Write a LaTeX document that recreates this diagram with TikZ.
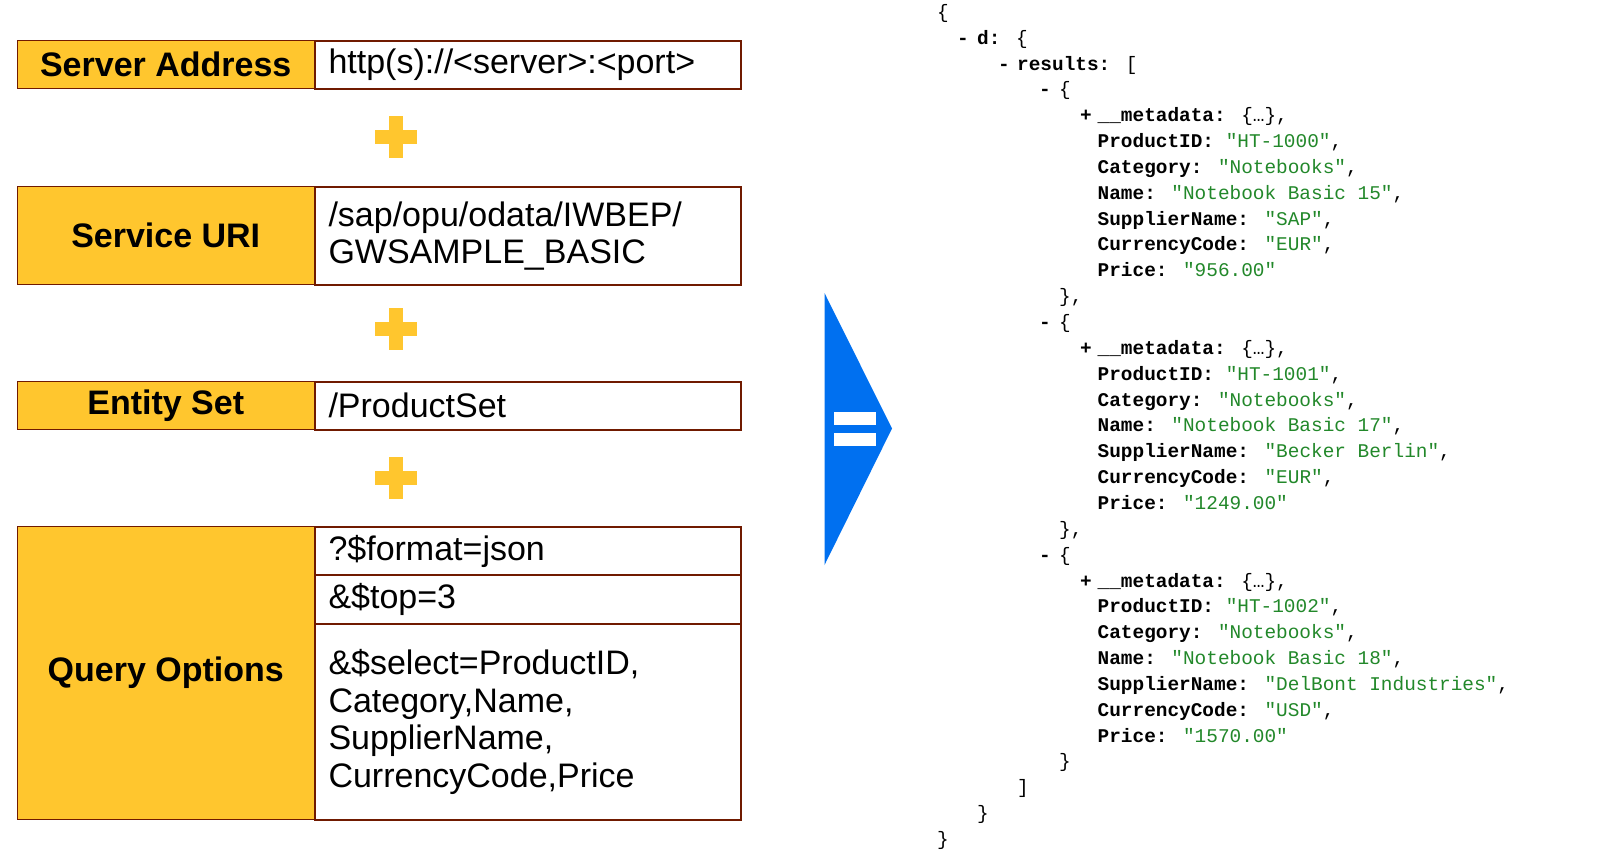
\documentclass[tikz,border=0pt]{standalone}
\usepackage{fontspec}
\setmainfont{Liberation Sans}
\newfontfamily\jmono{Liberation Mono}
\definecolor{boxorange}{HTML}{FFC62E}
\definecolor{boxline}{HTML}{701A00}
\definecolor{jgreen}{HTML}{22882A}
\definecolor{eqblue}{HTML}{0070F0}
\begin{document}
\begin{tikzpicture}[x=1pt,y=-1pt,
  labelbox/.style={draw=boxline, line width=1pt, fill=boxorange,
    font=\fontsize{34}{37.4}\selectfont\bfseries, inner sep=0pt,
    anchor=north west, minimum width=297.5pt, align=center},
  valbox/.style={draw=boxline, line width=2pt, fill=white,
    font=\fontsize{34}{37.4}\selectfont, inner xsep=13.5pt, inner ysep=0pt,
    anchor=north west, text width=399pt, align=left, minimum width=426pt},
  jl/.style={anchor=base west, inner sep=0pt, font=\jmono\fontsize{19.4}{20}\selectfont},
  jb/.style={jl, font=\jmono\bfseries\fontsize{19.4}{20}\selectfont},
  plusbar/.style={fill=boxorange}
]
\useasboundingbox[fill=white] (0,0) rectangle (1600,855);

% ---- left column ----
\node[labelbox, minimum height=48.3pt] (sa) at (16.5,40) {Server Address};
\node[valbox, minimum height=48.3pt] (sav) at (314,40) {\raisebox{-2pt}{http(s)://<server>:<port>}};

\node[labelbox, minimum height=98.6pt] (su) at (16.5,185.7) {Service URI};
\node[valbox, minimum height=98.6pt] (suv) at (314,185.7) {/sap/opu/odata/IWBEP/\\GWSAMPLE\_BASIC};

\node[labelbox, minimum height=48.3pt] (es) at (16.5,381) {\raisebox{-3pt}{Entity Set}};
\node[valbox, minimum height=48.3pt] (esv) at (314,381) {\raisebox{1pt}{/ProductSet}};

\node[labelbox, minimum height=293.3pt] (qo) at (16.5,525.7) {\raisebox{-3pt}{Query Options}};
\node[valbox, minimum height=48.6pt] (qo1) at (314,525.7) {\raisebox{-2pt}{?\$format=json}};
\node[valbox, minimum height=48.4pt] (qo2) at (314,574.3) {\raisebox{-2pt}{\&\$top=3}};
\node[valbox, minimum height=196.3pt] (qo3) at (314,622.7) {\&\$select=ProductID,\\Category,Name,\\SupplierName,\\CurrencyCode,Price};

% ---- plus signs ----
\foreach \py in {137,328.6,477.8}{
  \fill[plusbar] (389,\py-21) rectangle (403,\py+21);
  \fill[plusbar] (375,\py-7) rectangle (417,\py+7);
}

% ---- equals arrow ----
\fill[eqblue] (824.5,293) -- (892,428.5) -- (824.5,565) -- cycle;
\fill[white] (833.7,412) rectangle (875.5,425);
\fill[white] (833.7,432.5) rectangle (875.5,446);

% ---- JSON ----
\node[jl] (j0) at (937,18.3) {\{};
\node[jb] (j1m) at (957,44.15) {-};
\node[jl] (j1) at (977,44.15) {\textbf{d:} \{};
\node[jb] (j2m) at (998,70.0) {-};
\node[jl] (j2) at (1017,70.0) {\textbf{results:} [};

\foreach \pid/\num/\sup/\cur/\pr [count=\k from 0] in {HT-1000/15/SAP/EUR/956.00,HT-1001/17/Becker Berlin/EUR/1249.00,HT-1002/18/DelBont Industries/USD/1570.00}{
  \pgfmathsetmacro\yb{18.3+25.85*(3+9*\k)}
  \node[jb] (im\k) at (1039,\yb) {-};
  \node[jl] (io\k) at (1059,\yb) {\{};
  \node[jb] (ip\k) at (1080,\yb+25.85) {+};
  \node[jl] (imd\k) at (1097.5,\yb+25.85) {\textbf{\_\_metadata:} \{…\},};
  \node[jl] (ipid\k) at (1097.5,\yb+51.7) {\textbf{ProductID:} \textcolor{jgreen}{"\pid"},};
  \node[jl] (icat\k) at (1097.5,\yb+77.55) {\textbf{Category:} \textcolor{jgreen}{"Notebooks"},};
  \node[jl] (inm\k) at (1097.5,\yb+103.4) {\textbf{Name:} \textcolor{jgreen}{"Notebook Basic \num"},};
  \node[jl] (isup\k) at (1097.5,\yb+129.25) {\textbf{SupplierName:} \textcolor{jgreen}{"\sup"},};
  \node[jl] (icur\k) at (1097.5,\yb+155.1) {\textbf{CurrencyCode:} \textcolor{jgreen}{"\cur"},};
  \node[jl] (ipr\k) at (1097.5,\yb+180.95) {\textbf{Price:} \textcolor{jgreen}{"\pr"}};
  \node[jl] (ic\k) at (1059,\yb+206.8) {\}\ifnum\k<2 ,\fi};
}

\node[jl] (j30) at (1017,793.8) {]};
\node[jl] (j31) at (977,819.65) {\}};
\node[jl] (j32) at (937,845.5) {\}};
\end{tikzpicture}
\end{document}
